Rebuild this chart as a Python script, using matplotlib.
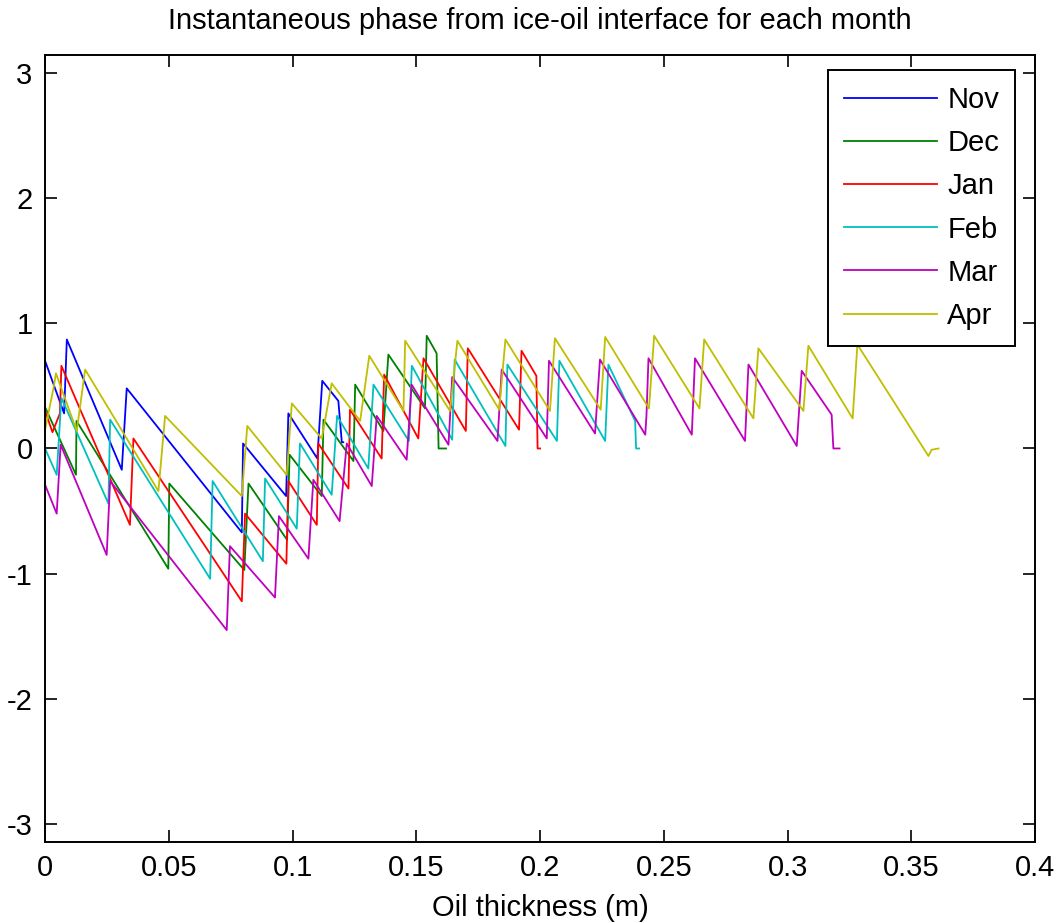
import numpy as np
import matplotlib
matplotlib.use("Agg")
import matplotlib.pyplot as plt

# phase curves (vertices of each sawtooth)
nov_x = [0.0, 0.0077, 0.0088, 0.031, 0.033, 0.0795, 0.080, 0.0974, 0.0983, 0.110, 0.112, 0.1185, 0.1199, 0.1205]
nov_y = [0.70, 0.28, 0.87, -0.17, 0.48, -0.67, 0.04, -0.38, 0.28, -0.08, 0.54, 0.38, 0.05, 0.05]

dec_x = [0.0, 0.0125, 0.0127, 0.0498, 0.0502, 0.0805, 0.0822, 0.0978, 0.0988, 0.1118, 0.1125,
         0.1246, 0.1253, 0.1367, 0.1387, 0.1535, 0.1542, 0.1582, 0.159, 0.162]
dec_y = [0.33, -0.21, 0.22, -0.96, -0.28, -0.97, -0.28, -0.73, -0.05, -0.38, 0.23,
         -0.10, 0.51, 0.14, 0.75, 0.32, 0.90, 0.76, 0.0, 0.0]

jan_x = [0.0, 0.003, 0.006, 0.0066, 0.0343, 0.0357, 0.0795, 0.0808, 0.0975, 0.0983, 0.1098,
         0.1104, 0.1226, 0.1232, 0.136, 0.137, 0.1508, 0.1529, 0.170, 0.1708, 0.1915, 0.1925,
         0.1985, 0.199, 0.2]
jan_y = [0.30, 0.13, 0.28, 0.66, -0.61, 0.08, -1.22, -0.52, -0.92, -0.26, -0.61,
         0.04, -0.32, 0.31, -0.08, 0.59, 0.08, 0.72, 0.14, 0.80, 0.15, 0.78,
         0.58, 0.0, 0.0]

feb_x = [0.0, 0.0047, 0.0063, 0.0067, 0.0256, 0.0263, 0.0667, 0.0677, 0.0880, 0.0889, 0.1017,
         0.1030, 0.1158, 0.1180, 0.1306, 0.1327, 0.1470, 0.1482, 0.1645, 0.1655, 0.1860,
         0.1868, 0.2068, 0.2078, 0.2263, 0.2276, 0.2384, 0.2388, 0.240]
feb_y = [0.0, -0.21, 0.31, 0.40, -0.44, 0.23, -1.04, -0.26, -0.90, -0.24, -0.64,
         0.04, -0.37, 0.26, -0.16, 0.51, 0.06, 0.66, 0.07, 0.71, 0.02,
         0.67, 0.06, 0.70, 0.06, 0.67, 0.22, 0.0, 0.0]

mar_x = [0.0, 0.0047, 0.0063, 0.0249, 0.0263, 0.0734, 0.0747, 0.0929, 0.0945, 0.1064, 0.1084,
         0.119, 0.1219, 0.132, 0.134, 0.1461, 0.1481, 0.163, 0.1645, 0.1828, 0.1845,
         0.2027, 0.2036, 0.2222, 0.2242, 0.2425, 0.243, 0.2438, 0.2613, 0.2626, 0.2828,
         0.2842, 0.3037, 0.3057, 0.3178, 0.3185, 0.321]
mar_y = [-0.29, -0.52, 0.03, -0.85, -0.26, -1.45, -0.78, -1.19, -0.54, -0.88, -0.25,
         -0.58, 0.04, -0.30, 0.26, -0.09, 0.51, 0.03, 0.57, 0.06, 0.63,
         0.08, 0.70, 0.12, 0.71, 0.11, 0.27, 0.72, 0.11, 0.72, 0.06,
         0.67, 0.02, 0.62, 0.27, 0.0, 0.0]

apr_x = [0.0, 0.0034, 0.0044, 0.0128, 0.0162, 0.0458, 0.0485, 0.0795, 0.0817, 0.0976, 0.0997,
         0.1118, 0.1158, 0.1273, 0.131, 0.1448, 0.1455, 0.1636, 0.1666, 0.1835, 0.1860,
         0.2040, 0.2060, 0.2245, 0.2263, 0.2440, 0.2461, 0.2644, 0.2663, 0.2862, 0.2882,
         0.3064, 0.3084, 0.3263, 0.3282, 0.3569, 0.3582, 0.361]
apr_y = [0.15, 0.48, 0.60, 0.14, 0.63, -0.34, 0.26, -0.38, 0.18, -0.21, 0.36,
         0.08, 0.52, 0.22, 0.74, 0.30, 0.86, 0.30, 0.86, 0.31, 0.87,
         0.30, 0.88, 0.31, 0.89, 0.32, 0.90, 0.32, 0.87, 0.24, 0.80,
         0.30, 0.82, 0.24, 0.83, -0.06, -0.01, 0.0]

months = ["Nov", "Dec", "Jan", "Feb", "Mar", "Apr"]
xs = [nov_x, dec_x, jan_x, feb_x, mar_x, apr_x]
ys = [nov_y, dec_y, jan_y, feb_y, mar_y, apr_y]
# matlab default line colours b g r c m y
colors = [(0, 0, 1), (0, 0.5, 0), (1, 0, 0), (0, 0.75, 0.75), (0.75, 0, 0.75), (0.75, 0.75, 0)]

plt.rcParams['font.family'] = ['Liberation Sans', 'DejaVu Sans']
plt.rcParams['axes.unicode_minus'] = False

fig = plt.figure(figsize=(10.6, 9.23), dpi=100)
ax = fig.add_axes([0.0425, 0.0878, 0.934, 0.8526])

for x, y, c, m in zip(xs, ys, colors, months):
    ax.plot(x, y, color=c, lw=1.3, label=m)

ax.set_xlim(0, 0.4)
ax.set_ylim(-np.pi, np.pi)
ax.set_xticks(np.arange(0, 0.41, 0.05))
ax.set_xticklabels(["0", "0.05", "0.1", "0.15", "0.2", "0.25", "0.3", "0.35", "0.4"])
ax.set_yticks(np.arange(-3, 4, 1))
ax.tick_params(direction='in', top=True, right=True, length=8.5, width=1.2, labelsize=21, pad=9)
for s in ax.spines.values():
    s.set_linewidth(1.4)

ax.set_title("Instantaneous phase from ice-oil interface for each month", fontsize=21, pad=19)
ax.set_xlabel("Oil thickness (m)", fontsize=21, labelpad=8)

leg = ax.legend(loc='upper right', bbox_to_anchor=(0.98, 0.981), fontsize=21,
                handlelength=3.2, handletextpad=0.35, labelspacing=0.52, borderpad=0.55,
                borderaxespad=0, fancybox=False, framealpha=1, edgecolor='black')
leg.get_frame().set_linewidth(1.4)

fig.savefig("out.png", dpi=100)
